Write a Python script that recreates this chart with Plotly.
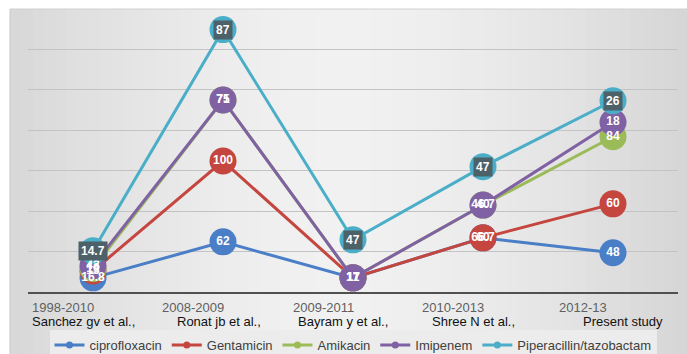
import plotly.graph_objects as go

years = ["1998-2010", "2008-2009", "2009-2011", "2010-2013", "2012-13"]
studies = ["Sanchez gv et al.,", "Ronat jb et al.,", "Bayram y et al.,", "Shree N et al.,", "Present study"]

series_names = ["ciprofloxacin", "Gentamicin", "Amikacin", "Imipenem", "Piperacillin/tazobactam"]

cipro_y = [3.5, 12.4, 3.5, 13.4, 9.7]
cipro_lbl = ["16.8", "62", "17", "66.7", "48"]
gent_y = [5.2, 32.4, 3.5, 13.4, 21.8]
gent_lbl = ["13", "100", "11", "60", "60"]
amik_y = [5.8, 47.5, 3.5, 21.5, 38.4]
amik_lbl = ["10", "71", "17", "46.7", "84"]
imip_y = [6.5, 47.5, 3.5, 21.5, 42.0]
imip_lbl = ["43", "75", "17", "40", "18"]
pip_y = [10.2, 64.9, 12.9, 31.0, 47.3]
pip_lbl = ["14.7", "87", "47", "47", "26"]

colors = ["#4a7ec6", "#c4463f", "#9bbb59", "#8062a4", "#4aaec8"]
ys = [cipro_y, gent_y, amik_y, imip_y, pip_y]
lbls = [cipro_lbl, gent_lbl, amik_lbl, imip_lbl, pip_lbl]

x = list(range(len(studies)))
fig = go.Figure()

# lines and markers
for name, yv, c in zip(series_names, ys, colors):
    fig.add_trace(go.Scatter(
        x=x, y=yv, mode="lines+markers",
        line=dict(color=c, width=3),
        marker=dict(color=c, size=27),
        showlegend=False, hoverinfo="skip", cliponaxis=False,
    ))

# data labels on top of all markers (pip labels drawn as boxed annotations)
for i, (yv, lv) in enumerate(zip(ys[:4], lbls[:4])):
    fig.add_trace(go.Scatter(
        x=x, y=yv, mode="text", text=lv, textposition="middle center",
        texttemplate="<b>%{text}</b>",
        textfont=dict(family="Liberation Sans", size=12, color="white"),
        showlegend=False, hoverinfo="skip", cliponaxis=False,
    ))

# legend-only traces
for name, c in zip(series_names, colors):
    fig.add_trace(go.Scatter(
        x=[None], y=[None], mode="lines+markers", name=name,
        line=dict(color=c, width=3), marker=dict(color=c, size=7),
    ))

for xi, yi, t in zip(x, pip_y, pip_lbl):
    fig.add_annotation(x=xi, y=yi, xref="x", yref="y", text="<b>%s</b>" % t,
                       showarrow=False, bgcolor="#4d6168",
                       font=dict(family="Liberation Sans", size=12, color="white"),
                       borderpad=2)

W, H = 687, 354
plot_l, plot_r = 28, 678
plot_t, plot_b = 9, 292
plot_w = plot_r - plot_l
plot_h = plot_b - plot_t

# category labels
name_shift = [-10, -4, -10, -10, 10]
for xi, yr, st, sh in zip(x, years, studies, name_shift):
    fig.add_annotation(x=xi, y=(plot_b - 307) / plot_h, xref="x", yref="paper", text=yr,
                       showarrow=False, xshift=-30, xanchor="center", yanchor="middle",
                       font=dict(family="Liberation Sans", size=13, color="#5f5f5f"))
    fig.add_annotation(x=xi, y=(plot_b - 321) / plot_h, xref="x", yref="paper", text=st,
                       showarrow=False, xshift=sh, xanchor="center", yanchor="middle",
                       font=dict(family="Liberation Sans", size=13, color="#111111"))

# background gradient strips
x_left, x_right = 10, 687
n = 60
center = 340
for k in range(n):
    a = x_left + (x_right - x_left) * k / n
    b = x_left + (x_right - x_left) * (k + 1) / n
    mid = (a + b) / 2
    d = min(1.0, abs(mid - center) / 340)
    v = int(round(241 - (241 - 214) * d ** 1.6))
    col = "rgb(%d,%d,%d)" % (v, v, v)
    fig.add_shape(type="rect", xref="paper", yref="paper",
                  x0=(a - plot_l) / plot_w, x1=(b - plot_l) / plot_w + 0.002,
                  y0=(plot_b - H) / plot_h, y1=1.0,
                  fillcolor=col, line=dict(width=0), layer="below")
fig.add_shape(type="line", xref="paper", yref="paper",
              x0=(x_left - plot_l) / plot_w, x1=(x_right - plot_l) / plot_w, y0=1, y1=1,
              line=dict(color="#d0d0d0", width=1), layer="below")
fig.add_shape(type="line", xref="paper", yref="paper",
              x0=(x_left - plot_l) / plot_w, x1=(x_left - plot_l) / plot_w,
              y0=(plot_b - H) / plot_h, y1=1,
              line=dict(color="#c8c8c8", width=1), layer="below")

fig.update_layout(
    width=W, height=H,
    margin=dict(l=plot_l, r=W - plot_r, t=plot_t, b=H - plot_b, autoexpand=False),
    paper_bgcolor="white", plot_bgcolor="rgba(0,0,0,0)",
    xaxis=dict(range=[-0.5, 4.5], showticklabels=False, showgrid=False, zeroline=False,
               showline=True, linecolor="#505050", linewidth=2, ticks=""),
    yaxis=dict(range=[0, 70], dtick=10, showticklabels=False, showgrid=True,
               gridcolor="#c3c3c3", gridwidth=1, zeroline=False, showline=False),
    legend=dict(orientation="h", x=0.5, xanchor="center", y=(plot_b - 345) / plot_h,
                yanchor="middle", bgcolor="#ececec",
                font=dict(family="Liberation Sans", size=13, color="#404040"),
                itemwidth=30, tracegroupgap=0),
    showlegend=True,
)

fig.write_html("out.html")
